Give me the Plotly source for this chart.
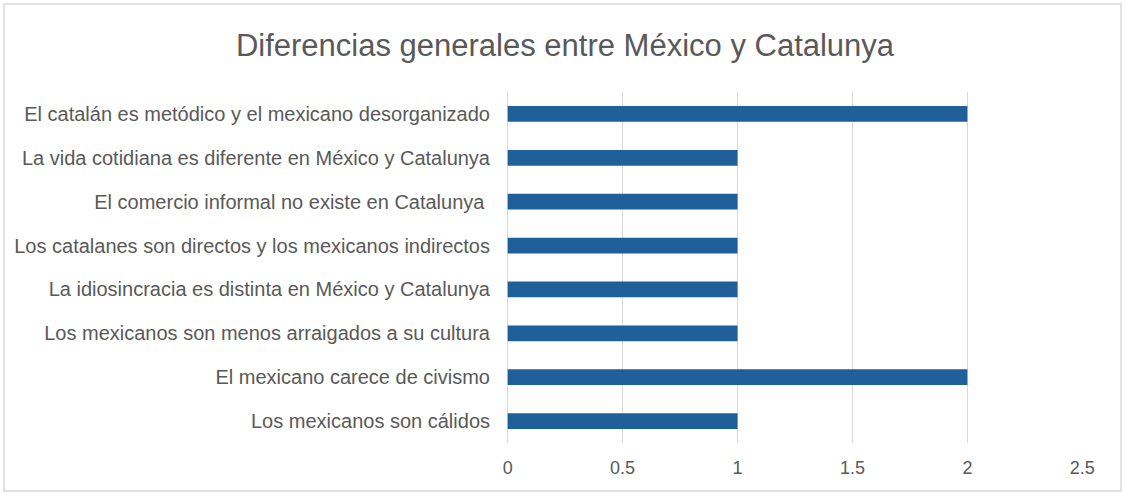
import plotly.graph_objects as go

categories = [
    "El catalán es metódico y el mexicano desorganizado",
    "La vida cotidiana es diferente en México y Catalunya",
    "El comercio informal no existe en Catalunya ",
    "Los catalanes son directos y los mexicanos indirectos",
    "La idiosincracia es distinta en México y Catalunya",
    "Los mexicanos son menos arraigados a su cultura",
    "El mexicano carece de civismo",
    "Los mexicanos son cálidos",
]
values = [2, 1, 1, 1, 1, 1, 2, 1]
x_ticks = [0, 0.5, 1, 1.5, 2, 2.5]
x_ticklabels = ["0", "0.5", "1", "1.5", "2", "2.5"]
title = "Diferencias generales entre México y Catalunya"

W, H = 1125, 495
ml, mr, mt, mb = 507, 42, 92, 52
pw, ph = W - ml - mr, H - mt - mb

fig = go.Figure(go.Bar(
    x=values, y=categories, orientation="h",
    marker=dict(color="#1F5F9A", line=dict(width=0)),
    width=0.36,
))

fig.update_layout(
    width=W, height=H,
    margin=dict(l=ml, r=mr, t=mt, b=mb),
    paper_bgcolor="white", plot_bgcolor="white",
    font=dict(family="Liberation Sans, Arial, sans-serif", size=19, color="#595959"),
    title=dict(text=title, x=565 / W, xanchor="center", y=1 - 45 / H, yanchor="middle",
               font=dict(size=31, color="#595959")),
    showlegend=False,
)
fig.update_xaxes(
    range=[-0.003, 2.503], tickvals=x_ticks, ticktext=x_ticklabels,
    showgrid=True, gridcolor="#D9D9D9", gridwidth=1,
    zeroline=True, zerolinecolor="#D9D9D9", zerolinewidth=1,
    showline=False, ticks="", ticklabelstandoff=12,
    tickfont=dict(size=18, color="#595959"),
)
fig.update_yaxes(
    categoryorder="array", categoryarray=categories, autorange="reversed",
    showgrid=False, zeroline=False, showline=False, ticks="",
    ticklabelstandoff=16, tickfont=dict(size=20, color="#595959"),
)

# chart border
fig.add_shape(
    type="rect", xref="paper", yref="paper",
    x0=(4 - ml) / pw, x1=(1121 - ml) / pw,
    y0=(H - mb - 491) / ph, y1=(H - mb - 4) / ph,
    line=dict(color="#D9D9D9", width=1.5), fillcolor="rgba(0,0,0,0)", layer="below",
)

fig.write_html("out.html", config={"displayModeBar": False},
               post_script="document.body.style.margin='0';document.body.style.overflow='hidden';")
